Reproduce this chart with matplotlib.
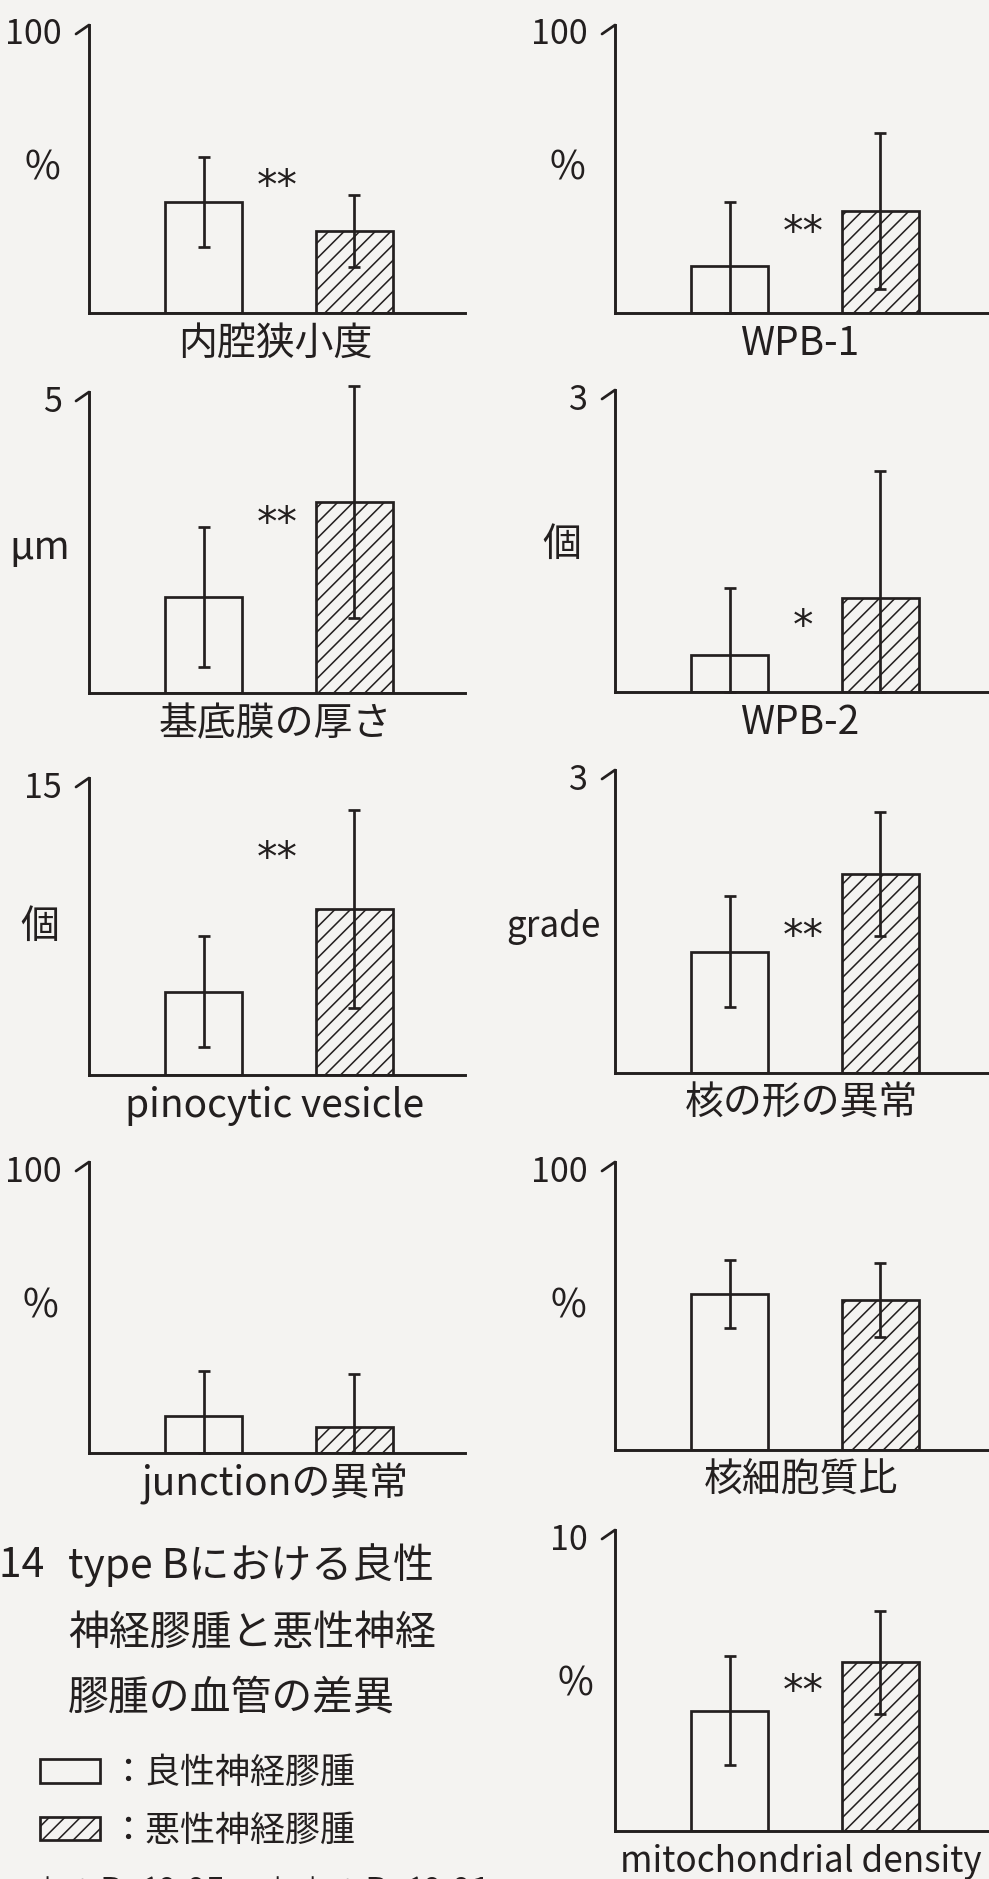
import numpy as np
import matplotlib
matplotlib.use('Agg')
import matplotlib.pyplot as plt
from matplotlib.patches import Patch
from matplotlib.transforms import ScaledTranslation

plt.rcParams['font.family'] = ['Noto Sans CJK JP', 'DejaVu Sans']
plt.rcParams['hatch.linewidth'] = 0.8

# panels, row by row (left, right)
labels = ['内腔狭小度', 'WPB-1', '基底膜の厚さ', 'WPB-2', 'pinocytic vesicle',
          '核の形の異常', 'junctionの異常', '核細胞質比', 'mitochondrial density']
units = ['%', '%', 'μm', '個', '個', 'grade', '%', '%', '%']
ymax = [100, 100, 5, 3, 15, 3, 100, 100, 10]
tick_labels = ['100', '100', '5', '3', '15', '3', '100', '100', '10']

benign_mean = [38.5, 16.3, 1.6, 0.37, 4.2, 1.2, 12.6, 54.1, 4.0]
benign_sd = [15.5, 22.2, 1.16, 0.66, 2.8, 0.55, 15.7, 11.7, 1.8]
malig_mean = [28.5, 35.4, 3.17, 0.93, 8.4, 1.97, 8.9, 52.1, 5.6]
malig_sd = [12.5, 27.1, 1.93, 1.27, 5.0, 0.61, 18.4, 13.0, 1.7]

signif = ['**', '**', '**', '*', '**', '**', '', '', '**']
signif_y = [48, 32, 3.0, 0.765, 11.5, 1.47, 0, 0, 5.0]

legend_labels = ['：良性神経膠腫', '：悪性神経膠腫']
title_lines = ['type Bにおける良性', '神経膠腫と悪性神経', '膠腫の血管の差異']
note = '＊：P＜0.05　＊＊：P＜0.01'

# layout in pixels of the 989 x 1879 page
W, H, DPI = 989, 1879, 140
ink = '#231f1f'
bg = '#f4f3f1'
panel_x = [89, 615, 89, 615, 89, 615, 89, 615, 615]
panel_top = [25, 25, 392, 390, 778, 770, 1162, 1162, 1530]
panel_base = [313, 313, 693, 692, 1075, 1073, 1453, 1450, 1831]
unit_xy = [(42, 168), (567, 168), (40, 548), (562, 545), (40, 927),
           (553, 927), (40, 1307), (568, 1307), (575, 1685)]


def px(x, y):
    return x / W, 1 - y / H


fig = plt.figure(figsize=(W / DPI, H / DPI), dpi=DPI, facecolor=bg)

xpos = np.array([0.305, 0.705])
for i in range(len(labels)):
    x0, top, base = panel_x[i], panel_top[i], panel_base[i]
    ax = fig.add_axes([x0 / W, 1 - base / H, 376 / W, (base - top) / H])
    ax.set_facecolor('none')
    ax.set_xlim(0, 1)
    ax.set_ylim(0, ymax[i])

    means = [benign_mean[i], malig_mean[i]]
    sds = [benign_sd[i], malig_sd[i]]
    for j, hatch in enumerate([None, '///']):
        err = [[min(sds[j], means[j])], [sds[j]]]
        ax.bar(xpos[j], means[j], width=0.205, facecolor='none',
               edgecolor=ink, linewidth=1.4, hatch=hatch, zorder=2)
        ax.errorbar(xpos[j], means[j], yerr=err, fmt='none', ecolor=ink,
                    elinewidth=1.4, capsize=3, capthick=1.4, zorder=3,
                    clip_on=False)

    for side in ['top', 'right']:
        ax.spines[side].set_visible(False)
    for side in ['left', 'bottom']:
        ax.spines[side].set_linewidth(1.5)
        ax.spines[side].set_color(ink)
    ax.set_xticks([])
    ax.set_yticks([ymax[i]])
    ax.set_yticklabels([tick_labels[i]], fontsize=17.5, color=ink)
    ax.tick_params(axis='y', length=0, pad=14)
    for lbl in ax.get_yticklabels():
        lbl.set_transform(lbl.get_transform() +
                          ScaledTranslation(0, -6 / DPI, fig.dpi_scale_trans))

    # little flag at the top of the axis
    ax.annotate('', xy=(0, 1), xycoords='axes fraction', xytext=(-13, -9),
                textcoords='offset pixels',
                arrowprops=dict(arrowstyle='-', lw=1.4, color=ink,
                                shrinkA=0, shrinkB=0))

    size = 18 if len(labels[i]) > 17 else 20
    ax.annotate(labels[i], xy=(0.5, 0), xycoords='axes fraction',
                xytext=(-2, -31), textcoords='offset pixels',
                ha='center', va='center', fontsize=size, color=ink)

    if signif[i]:
        star_tf = ax.transData + ScaledTranslation(0, -24 / DPI,
                                                   fig.dpi_scale_trans)
        ax.text(0.5, signif_y[i], signif[i], transform=star_tf,
                ha='center', va='baseline', fontsize=21,
                family='DejaVu Sans', color=ink)

    ux, uy = unit_xy[i]
    fig.text(*px(ux, uy), units[i], ha='center', va='center',
             fontsize=18 if units[i] == 'grade' else 20, color=ink)

# caption
fig.text(*px(45, 1565), '図14', ha='right', va='center', fontsize=21,
         color=ink)
for line, y in zip(title_lines, [1565, 1633, 1698]):
    fig.text(*px(68, y), line, ha='left', va='center', fontsize=21,
             color=ink)

handles = [Patch(facecolor='none', edgecolor=ink, linewidth=1.4),
           Patch(facecolor='none', edgecolor=ink, linewidth=1.4, hatch='///')]
fig.legend(handles, legend_labels, loc='upper left',
           bbox_to_anchor=px(40, 1755), frameon=False, fontsize=18,
           handlelength=1.7, handleheight=0.66, handletextpad=0.3,
           labelspacing=0.62, borderpad=0, borderaxespad=0,
           labelcolor=ink)

fig.text(*px(30, 1876), note, ha='left', va='top', fontsize=18, color=ink)

fig.savefig('out.png', dpi=DPI, facecolor=bg)
